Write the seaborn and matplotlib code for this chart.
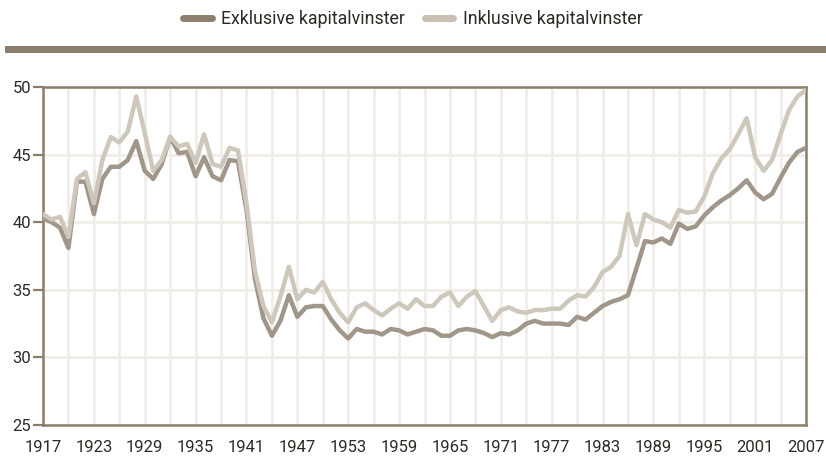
import numpy as np
import pandas as pd
import matplotlib
matplotlib.use("Agg")
import matplotlib.pyplot as plt
from matplotlib.lines import Line2D
from matplotlib.patches import Rectangle
import seaborn as sns

years = list(range(1917, 2008))

exklusive = [
    40.3, 40.0, 39.6, 38.1, 43.0, 43.0, 40.6, 43.2, 44.1, 44.1,   # 1917-1926
    44.6, 46.0, 43.8, 43.2, 44.3, 46.3, 45.1, 45.2, 43.4, 44.8,   # 1927-1936
    43.4, 43.1, 44.6, 44.5, 40.9, 35.8, 32.9, 31.6, 32.7, 34.6,   # 1937-1946
    33.0, 33.7, 33.8, 33.8, 32.8, 32.0, 31.4, 32.1, 31.9, 31.9,   # 1947-1956
    31.7, 32.1, 32.0, 31.7, 31.9, 32.1, 32.0, 31.6, 31.6, 32.0,   # 1957-1966
    32.1, 32.0, 31.8, 31.5, 31.8, 31.7, 32.0, 32.5, 32.7, 32.5,   # 1967-1976
    32.5, 32.5, 32.4, 33.0, 32.8, 33.3, 33.8, 34.1, 34.3, 34.6,   # 1977-1986
    36.6, 38.6, 38.5, 38.8, 38.4, 39.9, 39.5, 39.7, 40.5, 41.1,   # 1987-1996
    41.6, 42.0, 42.5, 43.1, 42.2, 41.7, 42.1, 43.3, 44.4, 45.2,   # 1997-2006
    45.5,                                                         # 2007
]

inklusive = [
    40.6, 40.2, 40.4, 38.9, 43.2, 43.7, 41.4, 44.6, 46.3, 45.9,   # 1917-1926
    46.7, 49.3, 46.6, 43.8, 44.6, 46.3, 45.6, 45.8, 44.4, 46.5,   # 1927-1936
    44.3, 44.1, 45.5, 45.3, 41.4, 36.4, 33.8, 32.6, 34.5, 36.7,   # 1937-1946
    34.3, 35.0, 34.8, 35.6, 34.3, 33.3, 32.6, 33.7, 34.0, 33.5,   # 1947-1956
    33.1, 33.6, 34.0, 33.6, 34.3, 33.8, 33.8, 34.5, 34.8, 33.8,   # 1957-1966
    34.5, 34.9, 33.8, 32.7, 33.5, 33.7, 33.4, 33.3, 33.5, 33.5,   # 1967-1976
    33.6, 33.6, 34.2, 34.6, 34.5, 35.2, 36.3, 36.7, 37.5, 40.6,   # 1977-1986
    38.3, 40.6, 40.2, 40.0, 39.6, 40.9, 40.7, 40.8, 41.9, 43.6,   # 1987-1996
    44.7, 45.4, 46.5, 47.7, 44.8, 43.8, 44.6, 46.5, 48.3, 49.3,   # 1997-2006
    49.8,                                                         # 2007
]

series_names = ["Exklusive kapitalvinster", "Inklusive kapitalvinster"]
x_tick_labels = list(range(1917, 2008, 6))
y_ticks = [25, 30, 35, 40, 45, 50]

df = pd.DataFrame({
    "year": years * 2,
    "value": exklusive + inklusive,
    "serie": [series_names[0]] * len(years) + [series_names[1]] * len(years),
})

sns.set_theme(style="white")
plt.rcParams["font.family"] = ["Roboto", "DejaVu Sans"]

spine_col = "#8b7e6c"
grid_col = "#f1eee9"
line_cols = {series_names[0]: "#a0968a", series_names[1]: "#cec7bc"}
legend_cols = ["#8d806f", "#c9c0b3"]
text_col = "#2e2a26"

W, H = 826, 457
fig = plt.figure(figsize=(W / 100, H / 100), dpi=100)
ax = fig.add_axes([43 / W, 1 - 425 / H, (806 - 43) / W, (425 - 87) / H])

sns.lineplot(data=df, x="year", y="value", hue="serie", palette=line_cols,
             linewidth=3.2, ax=ax, legend=False, zorder=3)
for ln in ax.lines:
    ln.set_solid_joinstyle("round")
    ln.set_solid_capstyle("round")

ax.set_xlim(1917, 2007)
ax.set_ylim(25, 50)
ax.set_xticks(x_tick_labels)
ax.set_xticklabels([str(v) for v in x_tick_labels])
ax.set_xticks(list(range(1920, 2007, 6)), minor=True)
ax.set_yticks(y_ticks)
ax.set_yticklabels([str(v) for v in y_ticks])
ax.set_xlabel("")
ax.set_ylabel("")

ax.grid(True, axis="x", which="both", color=grid_col, linewidth=2, zorder=0)
ax.grid(True, axis="y", which="major", color=grid_col, linewidth=2, zorder=0)
ax.set_axisbelow(True)

for s in ["left", "right", "top", "bottom"]:
    ax.spines[s].set_visible(True)
    ax.spines[s].set_color(spine_col)
    ax.spines[s].set_linewidth(1.8)

ax.tick_params(axis="x", which="both", length=0, pad=11, labelsize=12, labelcolor=text_col)
ax.tick_params(axis="y", which="major", length=7, width=1.6, color=spine_col,
               pad=1.5, labelsize=12, labelcolor=text_col, left=True)

# decorative bar under the legend
fig.add_artist(Rectangle((5 / W, 1 - 53 / H), 1 - 5 / W, 7 / H,
                         transform=fig.transFigure, facecolor=spine_col,
                         edgecolor="none"))

handles = [Line2D([0], [0], color=c, linewidth=5, solid_capstyle="round") for c in legend_cols]
fig.legend(handles, series_names, loc="center", ncol=2, frameon=False,
           bbox_to_anchor=(0.5, 1 - 19 / H), fontsize=12.8, handlelength=1.6,
           handletextpad=0.55, columnspacing=1.1, labelcolor=text_col)

fig.savefig("out.png", dpi=100)
